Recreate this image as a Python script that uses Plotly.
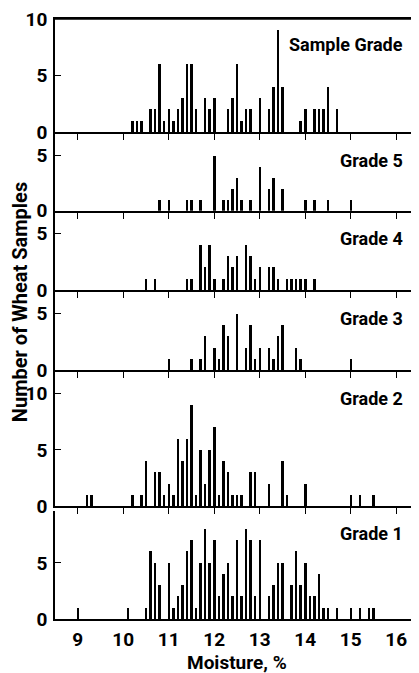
import plotly.graph_objects as go

# ---- data (moisture %, number of wheat samples) ----
sample_x = [10.2, 10.3, 10.4, 10.6, 10.7, 10.8, 10.9, 11.0, 11.1, 11.2, 11.3, 11.4, 11.5, 11.6, 11.8, 11.9,
            12.0, 12.3, 12.4, 12.5, 12.6, 12.7, 12.8, 13.0, 13.2, 13.3, 13.4, 13.5, 13.9, 14.0, 14.2, 14.3,
            14.4, 14.5, 14.7]
sample_y = [1, 1, 1, 2, 2, 6, 1, 2, 1, 2, 3, 6, 6, 2, 3, 2,
            3, 2, 3, 6, 1, 2, 2, 3, 2, 4, 9, 4, 1, 2, 2, 2,
            2, 4, 2]

g5_x = [10.8, 11.0, 11.4, 11.5, 11.7, 12.0, 12.2, 12.3, 12.4, 12.5, 12.6, 12.8, 13.0, 13.2, 13.3, 13.5,
        14.0, 14.2, 14.5, 15.0]
g5_y = [1, 1, 1, 1, 1, 5, 1, 1, 2, 3, 1, 1, 4, 2, 3, 2,
        1, 1, 1, 1]

g4_x = [10.5, 10.7, 11.4, 11.5, 11.7, 11.8, 11.9, 12.0, 12.2, 12.3, 12.4, 12.5, 12.7, 12.8, 12.9, 13.0,
        13.2, 13.3, 13.4, 13.6, 13.7, 13.8, 13.9, 14.0, 14.2]
g4_y = [1, 1, 1, 1, 4, 2, 4, 1, 1, 3, 2, 3, 4, 3, 1, 2,
        2, 2, 1, 1, 1, 1, 1, 1, 1]

g3_x = [11.0, 11.5, 11.7, 11.8, 12.0, 12.1, 12.2, 12.3, 12.5, 12.7, 12.8, 12.9, 13.0, 13.2, 13.3, 13.4,
        13.5, 13.8, 13.9, 15.0]
g3_y = [1, 1, 1, 3, 2, 1, 4, 3, 5, 2, 4, 1, 2, 2, 1, 3,
        4, 2, 1, 1]

g2_x = [9.2, 9.3, 10.2, 10.4, 10.5, 10.7, 10.8, 10.9, 11.0, 11.1, 11.2, 11.3, 11.4, 11.5, 11.6, 11.7,
        11.8, 11.9, 12.0, 12.1, 12.2, 12.3, 12.4, 12.5, 12.6, 12.8, 12.9, 13.2, 13.5, 13.6, 14.0, 15.0,
        15.2, 15.5]
g2_y = [1, 1, 1, 1, 4, 3, 3, 1, 2, 1, 6, 4, 6, 9, 1, 5,
        2, 5, 7, 1, 4, 3, 1, 1, 1, 3, 3, 2, 4, 1, 2, 1,
        1, 1]

g1_x = [9.0, 10.1, 10.5, 10.6, 10.7, 10.8, 11.0, 11.1, 11.2, 11.3, 11.4, 11.5, 11.6, 11.7, 11.8, 11.9,
        12.0, 12.1, 12.2, 12.3, 12.4, 12.5, 12.6, 12.7, 12.8, 12.9, 13.0, 13.2, 13.3, 13.4, 13.5, 13.7,
        13.8, 13.9, 14.0, 14.1, 14.2, 14.3, 14.4, 14.5, 14.7, 15.0, 15.2, 15.4, 15.5]
g1_y = [1, 1, 1, 6, 5, 3, 5, 1, 2, 3, 6, 7, 1, 5, 8, 5,
        7, 2, 4, 5, 2, 7, 2, 8, 7, 2, 7, 2, 3, 5, 5, 3,
        6, 3, 5, 2, 2, 4, 1, 1, 1, 1, 1, 1, 1]

panel_names = ["Sample Grade", "Grade 5", "Grade 4", "Grade 3", "Grade 2", "Grade 1"]
x_ticks = [9, 10, 11, 12, 13, 14, 15, 16]
x_tick_labels = ["9", "10", "11", "12", "13", "14", "15", "16"]

panels = [
    (sample_x, sample_y, [0, 10], [0, 5, 10]),
    (g5_x, g5_y, [0, 7], [0, 5]),
    (g4_x, g4_y, [0, 7], [0, 5]),
    (g3_x, g3_y, [0, 7], [0, 5]),
    (g2_x, g2_y, [0, 12], [0, 5, 10]),
    (g1_x, g1_y, [0, 9.6], [0, 5]),
]

# ---- layout geometry (page pixels; the page body has an 8px margin) ----
OFF = 8
PAGE_W, PAGE_H = 419, 673
W, H = PAGE_W - OFF, PAGE_H - OFF
PLOT_L, PLOT_R, PLOT_T, PLOT_B = 55, 419, 19, 618.7   # page coords
ML = PLOT_L - OFF
MR = 0
MT = PLOT_T - OFF
MB = PAGE_H - PLOT_B
PH = PLOT_B - PLOT_T
PW = PLOT_R - PLOT_L
def py(pix):
    return (PLOT_B - pix) / PH
def px(pix):
    return (pix - PLOT_L) / PW

domains = [
    [py(132), 1.0],
    [py(210.7), py(133.5)],
    [py(290), py(211)],
    [py(370.3), py(291)],
    [py(506), py(371)],
    [0.0, py(511)],
]
label_y = [44.5, 160, 238, 318, 398, 533]

FONT = "Roboto, Liberation Sans, sans-serif"

fig = go.Figure()
layout_updates = {}
annotations = []
for i, (xs, ys, yr, tv) in enumerate(panels):
    n = i + 1
    suf = "" if n == 1 else str(n)
    fig.add_trace(go.Bar(
        x=xs, y=ys, width=0.055,
        xaxis="x" + suf, yaxis="y" + suf,
        marker=dict(color="black", line=dict(width=0)),
        showlegend=False, hoverinfo="x+y",
    ))
    last = (n == len(panels))
    xa = dict(
        domain=[0, 1], range=[8.5, 16.5], anchor="y" + suf,
        showline=True, linecolor="black", linewidth=1.6,
        showgrid=False, zeroline=False, automargin=False,
        tickvals=x_ticks, ticktext=x_tick_labels,
        ticks="" if last else "outside", ticklen=6, tickwidth=1.4, tickcolor="black",
        showticklabels=last, ticklabeloverflow="allow",
        tickfont=dict(family=FONT, size=19, color="black", weight="bold"),
        ticklabelstandoff=2,
        mirror=(n == 1),
    )
    if n > 1:
        xa["matches"] = "x"
    ya = dict(
        domain=domains[i], range=yr, anchor="x" + suf,
        showline=True, linecolor="black", linewidth=1.6,
        showgrid=False, zeroline=False, automargin=False,
        tickvals=tv, ticks="inside", ticklen=6, tickwidth=1.4, tickcolor="black",
        ticklabeloverflow="allow",
        tickfont=dict(family=FONT, size=19, color="black", weight="bold"),
        ticklabelstandoff=2,
    )
    layout_updates["xaxis" + suf] = xa
    layout_updates["yaxis" + suf] = ya
    annotations.append(dict(
        text=panel_names[i], xref="paper", yref="paper",
        x=px(405), y=py(label_y[i]),
        xanchor="right", yanchor="middle", showarrow=False,
        font=dict(family=FONT, size=18, color="black", weight="bold"),
    ))

annotations.append(dict(
    text="Number of Wheat Samples", xref="paper", yref="paper",
    x=px(20), y=py(302), textangle=-90,
    xanchor="center", yanchor="middle", showarrow=False,
    font=dict(family=FONT, size=20, color="black", weight="bold"),
))
annotations.append(dict(
    text="Moisture, %", xref="paper", yref="paper",
    x=px(237), y=py(662),
    xanchor="center", yanchor="middle", showarrow=False,
    font=dict(family=FONT, size=19, color="black", weight="bold"),
))

fig.update_layout(
    width=W, height=H,
    margin=dict(l=ML, r=MR, t=MT, b=MB, autoexpand=False),
    paper_bgcolor="white", plot_bgcolor="white",
    bargap=0, annotations=annotations,
    shapes=[dict(type="line", xref="paper", yref="paper", x0=0, x1=1, y0=1, y1=1,
                 line=dict(color="black", width=1.6))],
    **layout_updates,
)

fig.write_html("out.html")
